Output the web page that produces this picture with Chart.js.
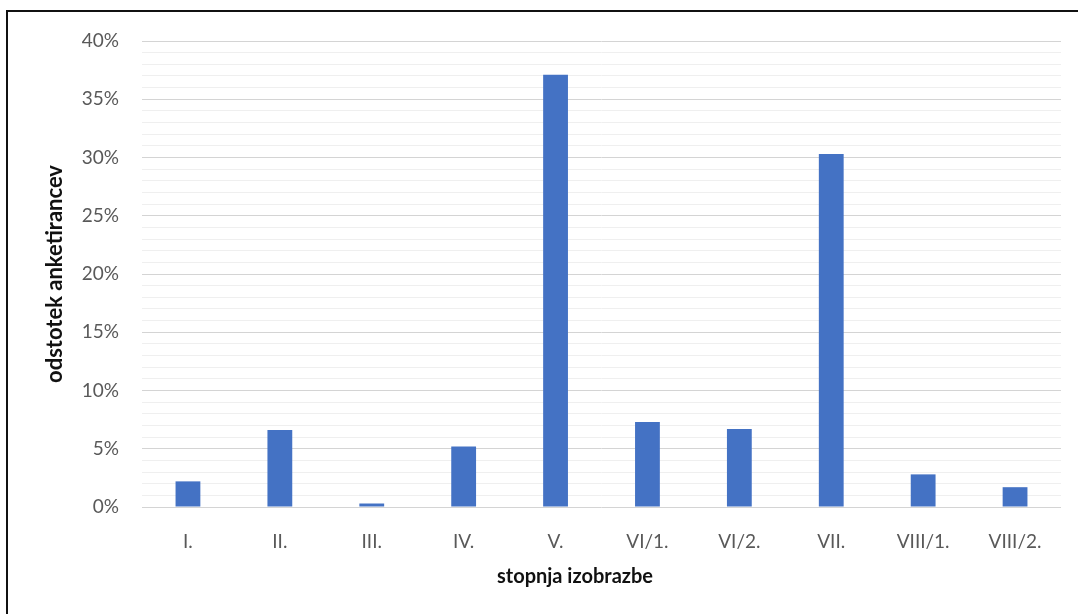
<!DOCTYPE html>
<html>
<head>
<meta charset="utf-8">
<script src="https://cdn.jsdelivr.net/npm/chart.js@4"></script>
<style>
  html, body { margin: 0; padding: 0; background: #fff; }
  #wrap { position: relative; width: 1078px; height: 614px; overflow: hidden; }
  #frame { position: absolute; left: 6px; top: 10px; width: 1100px; height: 700px;
           border-top: 2px solid #111; border-left: 2px solid #111; }
  #box { position: absolute; left: 0; top: 0; width: 1078px; height: 614px; }
  #xtitle { position: absolute; left: 575px; top: 563px; transform: translateX(-50%);
            font: bold 20px Lato, sans-serif; color: #111; white-space: nowrap; }
</style>
</head>
<body>
<div id="wrap">
  <div id="frame"></div>
  <div id="box"><canvas id="myChart"></canvas></div>
  <div id="xtitle">stopnja izobrazbe</div>
</div>
<script>
var categories = ["I.", "II.", "III.", "IV.", "V.", "VI/1.", "VI/2.", "VII.", "VIII/1.", "VIII/2."];
var shares = [2.2, 6.6, 0.3, 5.2, 37.1, 7.3, 6.7, 30.3, 2.8, 1.7];
var yMax = 40;

var ctx = document.getElementById("myChart").getContext("2d");

var myBarChart = new Chart(ctx, {
    type: "bar",
    data: {
        labels: categories,
        datasets: [
            {
                label: "odstotek anketirancev",
                data: shares,
                backgroundColor: "#4472C4",
                borderWidth: 0,
                categoryPercentage: 1,
                barPercentage: 0.27,
            },
        ],
    },
    options: {
        responsive: true,
        maintainAspectRatio: false,
        animation: false,
        layout: { padding: { left: 0, top: 41, right: 17, bottom: 0 } },
        plugins: { legend: { display: false }, tooltip: { enabled: false } },
        scales: {
            x: {
                grid: { display: false, drawTicks: false },
                border: { display: false },
                ticks: { color: "#595959", padding: 23, font: { family: "Lato", size: 19 } },
                afterFit: function (s) { s.height = 107; },
            },
            y: {
                min: 0,
                max: yMax,
                border: { display: false },
                grid: {
                    drawTicks: false,
                    lineWidth: 1,
                    color: function (c) {
                        return c.tick && c.tick.value % 5 === 0 ? "#d4d4d4" : "#efefef";
                    },
                },
                ticks: {
                    stepSize: 1,
                    autoSkip: false,
                    padding: 23,
                    color: "#595959",
                    font: { family: "Lato", size: 19 },
                    callback: function (v) { return v % 5 === 0 ? v + "%" : ""; },
                },
                title: {
                    display: true,
                    text: "odstotek anketirancev",
                    color: "#111",
                    padding: { top: 42, bottom: 0 },
                    font: { family: "Lato", size: 22, weight: "bold" },
                },
                afterFit: function (s) { s.width = 142; },
            },
        },
    },
});
</script>
</body>
</html>
